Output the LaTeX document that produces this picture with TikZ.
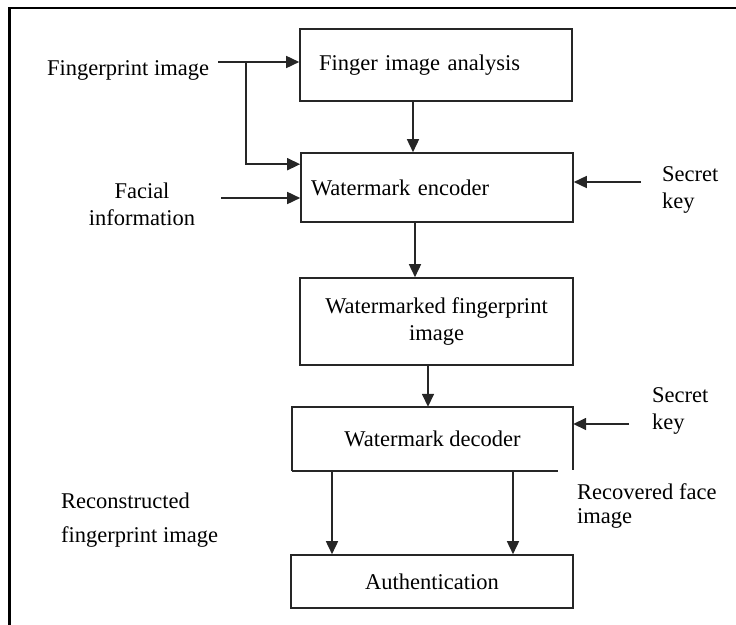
\documentclass[tikz,border=0pt]{standalone}
\usepackage{fontspec}
\setmainfont{Liberation Serif}
\usetikzlibrary{arrows.meta,calc}
\begin{document}
\begin{tikzpicture}[x=1bp,y=-1bp,
  every node/.style={font=\fontsize{22.5bp}{27bp}\selectfont},
  line/.style={draw=black!85, line width=1.6bp},
  box/.style={line, inner sep=0pt, minimum width=272bp},
  lbl/.style={inner sep=0pt, align=left, anchor=west},
  arr/.style={line, -{Triangle[length=13bp,width=12bp]}}]
\useasboundingbox (0,0) rectangle (736,625);
% frame
\draw[line width=2.6bp] (736,8) -- (9.5,8) -- (9.5,625);
% boxes
\node[box, minimum height=72bp, text width=234bp, align=left] (A) at (436,65) {Finger image analysis};
\node[box, minimum height=69bp, text width=252bp, align=left] (B) at (437,187.5) {Watermark encoder};
\node[box, minimum width=273bp, minimum height=87bp, align=center] (C) at (436.5,321.5) {Watermarked fingerprint\\image};
\node[inner sep=0pt, minimum width=281bp, minimum height=64bp] (D) at (432.5,439) {Watermark decoder};
\draw[line] (D.south west) -- (D.north west) -- (D.north east) -- ([yshift=1bp]D.south east);
\draw[line] (D.south west) -- ([xshift=-15bp]D.south east);
\node[box, minimum width=282bp, minimum height=53bp] (E) at (432,581.5) {Authentication};
% labels
\node[lbl] (fp) at (47,70) {Fingerprint image};
\node[inner sep=0pt, align=center] (fi) at (142,204) {Facial\\information};
\node[lbl] (sk1) at (662,190) {Secret\\key};
\node[lbl] (sk2) at (652,411) {Secret\\key};
\node[lbl] (rc) at (61,520) {Reconstructed\\[7bp]fingerprint image};
\node[lbl] (rf) at (577,506) {Recovered face\\[-3bp]image};
% connectors
\coordinate (fpA) at (218,62);
\draw[arr] (fpA) -- (fpA -| A.west);
\coordinate (br) at (246,62);
\coordinate (bin) at ($(B.north west)+(0,12)$);
\draw[arr] (br) |- (bin);
\coordinate (fiA) at (221,198);
\draw[arr] (fiA) -- (fiA -| B.west);
\coordinate (ab) at ($(A.south)+(-23,0)$);
\draw[arr] (ab) -- (ab |- B.north);
\coordinate (sk1s) at (641,182);
\draw[arr] (sk1s) -- (sk1s -| B.east);
\coordinate (bc) at ($(B.south)+(-22,0)$);
\draw[arr] (bc) -- (bc |- C.north);
\coordinate (cd) at ($(C.south)+(-8.5,0)$);
\draw[arr] (cd) -- (cd |- D.north);
\coordinate (sk2s) at (629,424);
\draw[arr] (sk2s) -- (sk2s -| D.east);
\coordinate (de1) at ($(D.south)+(-100.5,0)$);
\draw[arr] (de1) -- (de1 |- E.north);
\coordinate (de2) at ($(D.south)+(80.5,0)$);
\draw[arr] (de2) -- (de2 |- E.north);
\end{tikzpicture}
\end{document}
